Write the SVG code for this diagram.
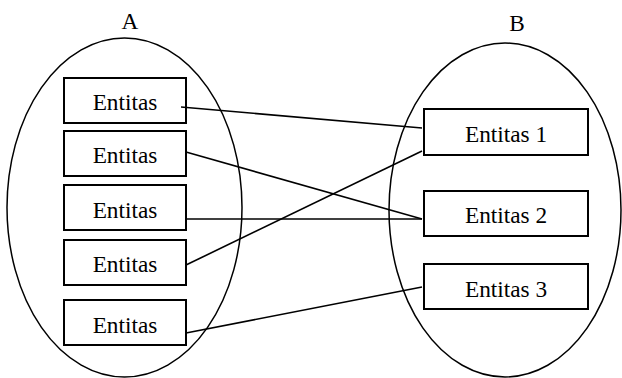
<svg xmlns="http://www.w3.org/2000/svg" width="622" height="378" viewBox="0 0 622 378" font-family="'Liberation Serif', 'DejaVu Serif', serif">
<style>
.set{fill:none;stroke:#000;stroke-width:1.5}
.box{fill:#fff;stroke:#000;stroke-width:2}
text{font-family:'Liberation Serif','DejaVu Serif',serif;font-size:23.3px;fill:#000;text-anchor:middle}
.c{stroke:#000;stroke-width:1.6;fill:none}
</style>
<rect width="622" height="378" fill="#fff"/>
<g id="setA">
<ellipse class="set" cx="124.5" cy="207.5" rx="117.5" ry="169.5"/>
<text x="130" y="29">A</text>
</g>
<g id="setB">
<ellipse class="set" cx="505" cy="210" rx="116" ry="167"/>
<text x="517" y="31">B</text>
</g>
<g id="a1"><rect class="box" x="64" y="78" width="122" height="45"/><text x="125" y="110">Entitas</text></g>
<g id="a2"><rect class="box" x="64" y="131" width="122" height="45"/><text x="125" y="163">Entitas</text></g>
<g id="a3"><rect class="box" x="64" y="185" width="122" height="45"/><text x="125" y="218">Entitas</text></g>
<g id="a4"><rect class="box" x="64" y="240" width="122" height="45"/><text x="125" y="272">Entitas</text></g>
<g id="a5"><rect class="box" x="64" y="300" width="122" height="45"/><text x="125" y="333">Entitas</text></g>
<g id="b1"><rect class="box" x="424" y="109" width="164" height="46"/><text x="506" y="142">Entitas 1</text></g>
<g id="b2"><rect class="box" x="424" y="191" width="164" height="45"/><text x="506" y="223">Entitas 2</text></g>
<g id="b3"><rect class="box" x="424" y="264" width="164" height="45"/><text x="506" y="297">Entitas 3</text></g>
<g id="connectors">
<line class="c" x1="181" y1="107" x2="422" y2="128"/>
<line class="c" x1="186" y1="152" x2="422" y2="219"/>
<line class="c" x1="186" y1="219" x2="422" y2="219"/>
<line class="c" x1="186" y1="265" x2="422" y2="151"/>
<line class="c" x1="186" y1="333" x2="422" y2="287"/>
</g>
</svg>
